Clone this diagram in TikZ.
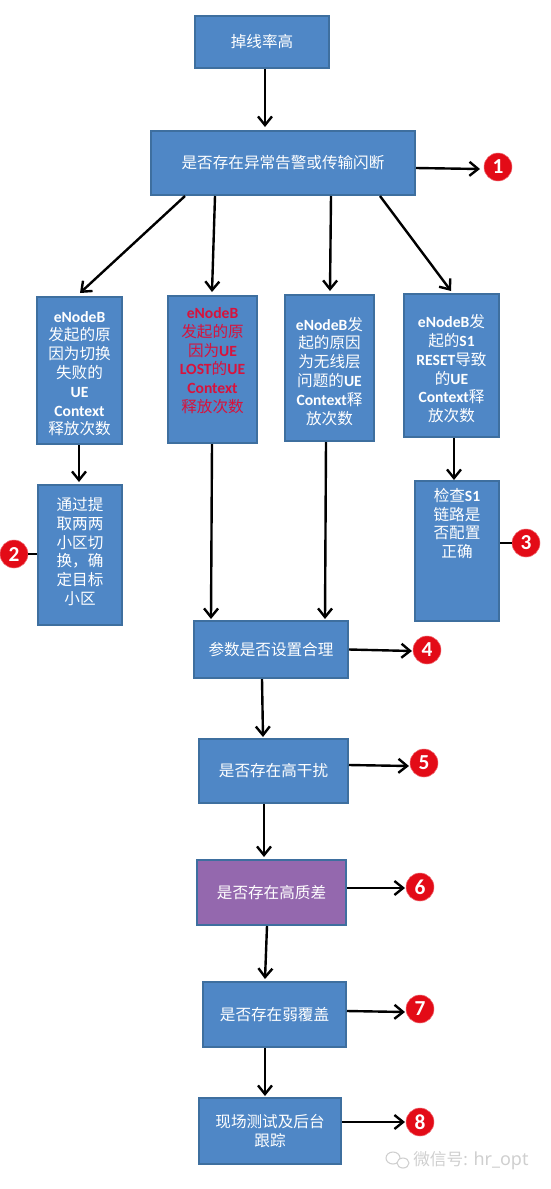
\documentclass[tikz,border=0pt]{standalone}
\usepackage{fontspec}
\setmainfont{Carlito}
\newfontfamily\cjk{Noto Sans CJK SC}
\newfontfamily\wmfont{Noto Sans}
\newcommand\zh[1]{{\cjk\mdseries #1}}
\usetikzlibrary{arrows.meta}
\definecolor{boxfill}{HTML}{4F87C6}
\definecolor{boxline}{HTML}{3E6F9F}
\definecolor{purplefill}{HTML}{9468AE}
\definecolor{lostred}{HTML}{D8123C}
\definecolor{badge}{HTML}{E30B17}
\definecolor{wmgray}{HTML}{CFCFCF}
\tikzset{
  box/.style={draw=boxline,line width=1.5pt,fill=boxfill,text=white,inner sep=0pt,align=center,
    font=\bfseries\fontsize{11.7}{14.1}\selectfont},
  arr/.style={draw=black,line width=1.8pt,-{Straight Barb[length=6.5pt,width=10.5pt,line width=1.8pt]}},
  plainline/.style={draw=black,line width=1.8pt},
  num/.style={circle,fill=badge,draw=badge!60!white,line width=.4pt,text=white,inner sep=0pt,minimum size=21pt,
    font=\bfseries\fontsize{16}{16}\selectfont},
}
\newcommand\lowertext{\\[-17.9pt]~}
\begin{document}
\begin{tikzpicture}[x=0.75pt,y=-0.75pt]
\useasboundingbox (0,0) rectangle (550,1189);
\node[box,minimum width=100.5pt,minimum height=39pt] (top) at (262,42) {\zh{掉线率高}};
\node[box,minimum width=198pt,minimum height=48pt] (main) at (283,163) {\zh{是否存在异常告警或传输闪断}};
\node[box,minimum width=63.75pt,minimum height=110.25pt] (b1) at (79.5,370.5)
  {eNodeB\\\zh{发起的原}\\\zh{因为切换}\\\zh{失败的}\\UE\\Context\\\zh{释放次数}\lowertext};
\node[box,minimum width=66.75pt,minimum height=110.25pt,text=lostred] (b2) at (212.5,369.5)
  {eNodeB\\\zh{发起的原}\\\zh{因为}UE\\LOST\zh{的}UE\\Context\\\zh{释放次数}\\~};
\node[box,minimum width=66.75pt,minimum height=109.5pt] (b3) at (329.5,368)
  {eNodeB\zh{发}\\\zh{起的原因}\\\zh{为无线层}\\\zh{问题的}UE\\Context\zh{释}\\\zh{放次数}\lowertext};
\node[box,minimum width=71.25pt,minimum height=107.25pt] (b4) at (451.5,365.5)
  {eNodeB\zh{发}\\\zh{起的}S1\\RESET\zh{导致}\\\zh{的}UE\\Context\zh{释}\\\zh{放次数}\lowertext};
\node[box,minimum width=63pt,minimum height=105pt] (c1) at (80,555)
  {\zh{通过提}\\\zh{取两两}\\\zh{小区切}\\\zh{换，确}\\\zh{定目标}\\\zh{小区}\\[-8.1pt]~};
\node[box,minimum width=63pt,minimum height=105pt] (c3) at (457,551)
  {\zh{检查}S1\\\zh{链路是}\\\zh{否配置}\\\zh{正确}\\~\\~\\~};
\node[box,minimum width=115.5pt,minimum height=42.75pt] (p4) at (271,649.5) {\zh{参数是否设置合理}};
\node[box,minimum width=111.75pt,minimum height=48pt] (p5) at (273.5,771) {\zh{是否存在高干扰}};
\node[box,fill=purplefill,minimum width=111.75pt,minimum height=48.75pt] (p6) at (271.5,892.5) {\zh{是否存在高质差}};
\node[box,minimum width=107.25pt,minimum height=48.75pt] (p7) at (274.5,1014.5) {\zh{是否存在弱覆盖}};
\node[box,minimum width=106.5pt,minimum height=49.5pt] (p8) at (270,1131) {\zh{现场测试及后台}\\\zh{跟踪}};

\node[num] (n1) at (498,167) {1};
\node[num] (n2) at (14,554) {2};
\node[num] (n3) at (526,543) {3};
\node[num] (n4) at (427,650) {4};
\node[num] (n5) at (424,763) {5};
\node[num] (n6) at (420,887) {6};
\node[num] (n7) at (420,1009) {7};
\node[num] (n8) at (420,1122) {8};

\draw[arr] (265,0 |- top.south) -- (265,127);
\draw[arr] (185,0 |- main.south) -- (80,293);
\draw[arr] (215,0 |- main.south) -- (212,292);
\draw[arr] (331,0 |- main.south) -- (330,291);
\draw[arr] (380,0 |- main.south) -- (451,291);
\draw[arr] (79,0 |- b1.south) -- (79,482);
\draw[arr] (212,0 |- b2.south) -- (211,619);
\draw[arr] (326,0 |- b3.south) -- (325,619);
\draw[arr] (454,0 |- b4.south) -- (454,480);
\draw[arr] (262,0 |- p4.south) -- (263,737);
\draw[arr] (264,0 |- p5.south) -- (264,857);
\draw[arr] (267,0 |- p6.south) -- (265,979);
\draw[arr] (265,0 |- p7.south) -- (265,1096);

\draw[arr] (main.east |- 0,168) -- (480,169);
\draw[plainline] (c1.west |- n2.east) -- (n2.east);
\draw[plainline] (c3.east |- n3.west) -- (n3.west);
\draw[arr] (p4.east) -- (412,651);
\draw[arr] (p5.east |- 0,765) -- (409,766);
\draw[arr] (p6.east |- 0,888) -- (405,888);
\draw[arr] (p7.east |- 0,1011) -- (405,1012);
\draw[arr] (p8.east |- 0,1122) -- (405,1122);

% watermark
\draw[wmgray,line width=.8pt,fill=white] (393,1158) ellipse (7 and 6);
\draw[wmgray,line width=.8pt,fill=white] (403,1163) ellipse (6 and 5);
\node[anchor=west,text=wmgray,inner sep=0pt] (wm) at (413,1161)
  {\fontsize{12.5}{12.5}\selectfont\zh{微信号}\wmfont : \fontsize{13.5}{13.5}\selectfont hr\_opt};
\end{tikzpicture}
\end{document}
